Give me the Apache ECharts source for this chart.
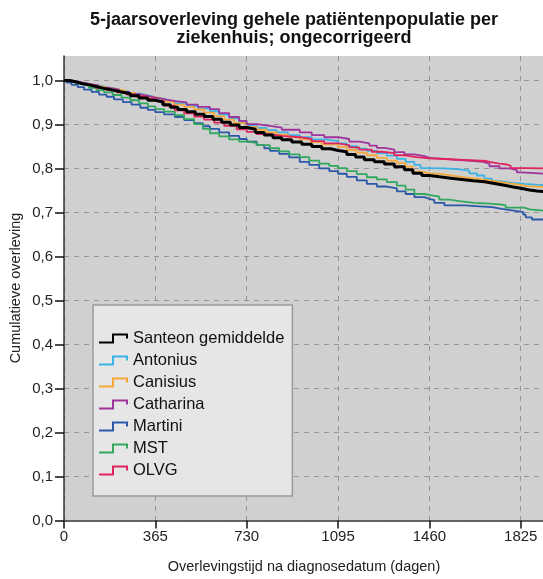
<!DOCTYPE html>
<html>
<head>
<meta charset="utf-8">
<title>5-jaarsoverleving per ziekenhuis</title>
<script src="https://cdn.jsdelivr.net/npm/echarts@6/dist/echarts.min.js"></script>
<style>
  html, body { margin: 0; padding: 0; background: #fff; }
  #chart { width: 543px; height: 579px; }
</style>
</head>
<body>
<div id="chart"></div>
<script>
// tick values (days / cumulative survival)
const xTicks = [0, 365, 730, 1095, 1460, 1825]
const yTicks = [0, 0.1, 0.2, 0.3, 0.4, 0.5, 0.6, 0.7, 0.8, 0.9, 1.0]

// Kaplan-Meier curves: [dag, overleving]
const santeon = [[0,1],[20,0.997],[45,0.993],[70,0.99],[100,0.986],[130,0.982],[160,0.978],[195,0.974],[230,0.97],[265,0.965],[300,0.96],[335,0.955],[365,0.951],[395,0.945],[425,0.939],[455,0.934],[490,0.929],[525,0.923],[560,0.918],[595,0.912],[630,0.905],[665,0.899],[700,0.893],[730,0.889],[765,0.882],[800,0.876],[835,0.87],[870,0.865],[910,0.86],[950,0.855],[990,0.85],[1030,0.845],[1065,0.841],[1095,0.838],[1130,0.832],[1165,0.826],[1200,0.82],[1240,0.815],[1280,0.81],[1320,0.804],[1360,0.797],[1394,0.789],[1430,0.784],[1460,0.781],[1500,0.778],[1545,0.775],[1590,0.772],[1635,0.77],[1680,0.766],[1720,0.762],[1760,0.758],[1795,0.755],[1825,0.751],[1860,0.749],[1890,0.747],[1922,0.747]]
const antonius = [[0,1],[30,0.996],[65,0.992],[100,0.988],[140,0.984],[180,0.98],[220,0.975],[260,0.97],[300,0.966],[335,0.962],[365,0.958],[405,0.953],[445,0.948],[490,0.942],[535,0.936],[583,0.93],[620,0.922],[660,0.914],[700,0.905],[730,0.898],[770,0.892],[810,0.887],[850,0.882],[895,0.876],[942,0.871],[990,0.866],[1040,0.862],[1095,0.857],[1130,0.851],[1170,0.845],[1210,0.84],[1250,0.835],[1290,0.829],[1330,0.822],[1365,0.815],[1400,0.808],[1425,0.801],[1460,0.8],[1520,0.798],[1580,0.795],[1620,0.789],[1650,0.784],[1680,0.777],[1710,0.771],[1740,0.767],[1790,0.765],[1840,0.762],[1922,0.762]]
const canisius = [[0,1],[25,0.996],[55,0.993],[90,0.989],[125,0.985],[165,0.981],[205,0.977],[245,0.972],[285,0.967],[325,0.962],[365,0.958],[400,0.952],[440,0.945],[480,0.94],[520,0.934],[560,0.927],[600,0.919],[640,0.911],[680,0.903],[730,0.894],[770,0.888],[810,0.882],[850,0.877],[895,0.871],[942,0.866],[985,0.86],[1030,0.855],[1095,0.849],[1130,0.842],[1170,0.836],[1210,0.83],[1250,0.824],[1290,0.818],[1330,0.812],[1365,0.804],[1394,0.793],[1430,0.789],[1460,0.787],[1510,0.783],[1560,0.779],[1610,0.776],[1660,0.772],[1710,0.768],[1760,0.764],[1810,0.76],[1850,0.758],[1922,0.758]]
const catharina = [[0,1],[30,0.996],[65,0.992],[100,0.988],[140,0.983],[180,0.979],[220,0.974],[260,0.969],[300,0.965],[335,0.961],[365,0.957],[405,0.953],[445,0.95],[490,0.945],[535,0.94],[583,0.935],[620,0.926],[660,0.917],[700,0.908],[730,0.901],[770,0.897],[823,0.893],[870,0.888],[942,0.882],[990,0.876],[1040,0.871],[1095,0.867],[1140,0.861],[1180,0.857],[1220,0.852],[1250,0.847],[1280,0.843],[1320,0.837],[1360,0.832],[1400,0.828],[1440,0.824],[1460,0.822],[1520,0.819],[1580,0.817],[1640,0.815],[1675,0.811],[1700,0.805],[1740,0.8],[1781,0.796],[1810,0.791],[1830,0.788],[1922,0.788]]
const martini = [[0,1],[10,0.995],[30,0.99],[55,0.985],[80,0.979],[110,0.974],[140,0.968],[170,0.963],[200,0.957],[235,0.951],[270,0.945],[305,0.938],[335,0.933],[365,0.928],[400,0.923],[443,0.917],[480,0.91],[520,0.903],[555,0.896],[583,0.89],[620,0.882],[660,0.874],[700,0.867],[730,0.861],[770,0.853],[800,0.846],[823,0.84],[860,0.833],[900,0.825],[942,0.815],[980,0.808],[1020,0.8],[1060,0.794],[1095,0.788],[1130,0.781],[1170,0.773],[1210,0.765],[1250,0.759],[1290,0.755],[1330,0.748],[1365,0.742],[1400,0.735],[1440,0.731],[1460,0.728],[1480,0.722],[1520,0.716],[1600,0.714],[1660,0.712],[1710,0.708],[1750,0.705],[1790,0.701],[1835,0.695],[1845,0.689],[1870,0.684],[1922,0.684]]
const mst = [[0,1],[15,0.996],[40,0.992],[70,0.988],[100,0.983],[130,0.978],[160,0.973],[195,0.967],[230,0.961],[265,0.955],[300,0.948],[335,0.941],[365,0.935],[400,0.929],[443,0.921],[480,0.912],[520,0.901],[555,0.89],[583,0.88],[620,0.873],[660,0.866],[700,0.861],[730,0.858],[770,0.853],[823,0.846],[860,0.839],[900,0.832],[942,0.826],[980,0.818],[1020,0.811],[1060,0.806],[1095,0.801],[1130,0.794],[1170,0.787],[1210,0.78],[1250,0.775],[1290,0.769],[1330,0.761],[1365,0.752],[1400,0.742],[1440,0.739],[1470,0.736],[1500,0.729],[1540,0.726],[1580,0.722],[1640,0.72],[1700,0.718],[1750,0.716],[1765,0.711],[1840,0.707],[1860,0.704],[1922,0.704]]
const olvg = [[0,1],[25,0.996],[55,0.992],[90,0.988],[130,0.983],[170,0.978],[210,0.973],[250,0.968],[290,0.963],[330,0.958],[365,0.953],[400,0.943],[443,0.932],[480,0.925],[520,0.918],[560,0.911],[600,0.904],[640,0.897],[690,0.889],[730,0.883],[770,0.878],[823,0.874],[870,0.871],[942,0.867],[990,0.862],[1040,0.857],[1095,0.853],[1140,0.848],[1180,0.843],[1230,0.838],[1270,0.835],[1320,0.83],[1360,0.826],[1410,0.823],[1460,0.821],[1540,0.819],[1620,0.817],[1688,0.815],[1700,0.811],[1740,0.809],[1770,0.806],[1785,0.801],[1850,0.8],[1922,0.8]]

const names = ['Santeon gemiddelde', 'Antonius', 'Canisius', 'Catharina', 'Martini', 'MST', 'OLVG']
const curves = [santeon, antonius, canisius, catharina, martini, mst, olvg]
const colors = ['#000000', '#3bb3e6', '#f5a83a', '#a0329c', '#2b58a8', '#31a85e', '#e0245e']

const font = "'Liberation Sans', Arial, sans-serif"
// step shaped legend glyph, like SPSS
const stepIcon = 'path://M0,8 L13,8 L13,0 L29,0 L29,5 L27,5 L27,2 L15,2 L15,10 L0,10 Z'

const chart = echarts.init(document.getElementById('chart'))

const series = names.map((n, i) => ({
  name: n,
  type: 'line',
  step: 'end',
  data: curves[i],
  symbol: 'none',
  showSymbol: false,
  color: colors[i],
  z: i === 0 ? 4 : 3,
  lineStyle: { color: colors[i], width: i === 0 ? 3 : 1.8 },
  emphasis: { disabled: true }
}))

const option = {
  animation: false,
  backgroundColor: '#ffffff',
  textStyle: { fontFamily: font },
  grid: {
    left: 64, top: 56, right: -2, bottom: 58.5,
    show: true, backgroundColor: '#d0d0d0', borderWidth: 0,
    outerBoundsMode: 'none'
  },
  xAxis: [{
    type: 'value', min: 0, max: 1922, interval: 365,
    axisLine: { show: true, onZero: false, lineStyle: { color: '#111', width: 1.5 } },
    axisTick: { show: true, length: 8, customValues: xTicks, lineStyle: { color: '#111', width: 1.5 } },
    axisLabel: {
      customValues: xTicks, margin: 9, fontSize: 15, color: '#222', fontFamily: font,
      formatter: v => String(v)
    },
    splitLine: { show: true, lineStyle: { color: '#959595', type: [5, 5], width: 1 } }
  }, {
    type: 'value', position: 'top', min: 0, max: 1922,
    axisLine: { show: true, lineStyle: { color: '#6e6e6e', width: 1.5 } },
    axisTick: { show: false }, axisLabel: { show: false }, splitLine: { show: false }
  }],
  yAxis: {
    type: 'value', min: 0, max: 1.0556, interval: 0.1,
    axisLine: { show: true, lineStyle: { color: '#333', width: 1.5 } },
    axisTick: { show: true, length: 9, customValues: yTicks, lineStyle: { color: '#111', width: 1.5 } },
    axisLabel: {
      customValues: yTicks, margin: 11, fontSize: 15, color: '#222', fontFamily: font,
      formatter: v => v.toFixed(1).replace('.', ',')
    },
    splitLine: { show: true, lineStyle: { color: '#959595', type: [5, 5], width: 1 } }
  },
  legend: {
    orient: 'vertical',
    left: 93, top: 305,
    data: names,
    icon: stepIcon,
    itemWidth: 29, itemHeight: 10, itemGap: 5,
    padding: [25, 8, 17, 6],
    backgroundColor: '#e6e6e6',
    borderColor: '#9a9a9a', borderWidth: 1.5,
    itemStyle: { borderWidth: 0 },
    textStyle: { fontSize: 16.5, color: '#111', fontFamily: font },
    selectedMode: false
  },
  graphic: [
    {
      type: 'text', x: 294, y: 11, z: 10,
      style: {
        text: '5-jaarsoverleving gehele patiëntenpopulatie per\nziekenhuis; ongecorrigeerd',
        font: 'bold 18px ' + font, fill: '#111',
        textAlign: 'center', lineHeight: 18
      }
    },
    {
      type: 'text', x: 16, y: 288, rotation: Math.PI / 2, z: 10,
      style: {
        text: 'Cumulatieve overleving', font: '14.5px ' + font, fill: '#222',
        textAlign: 'center', textVerticalAlign: 'middle'
      }
    },
    {
      type: 'text', x: 304, y: 567, z: 10,
      style: {
        text: 'Overlevingstijd na diagnosedatum (dagen)', font: '14.5px ' + font, fill: '#222',
        textAlign: 'center', textVerticalAlign: 'middle'
      }
    }
  ],
  series: series
}

option && chart.setOption(option)
</script>
</body>
</html>
